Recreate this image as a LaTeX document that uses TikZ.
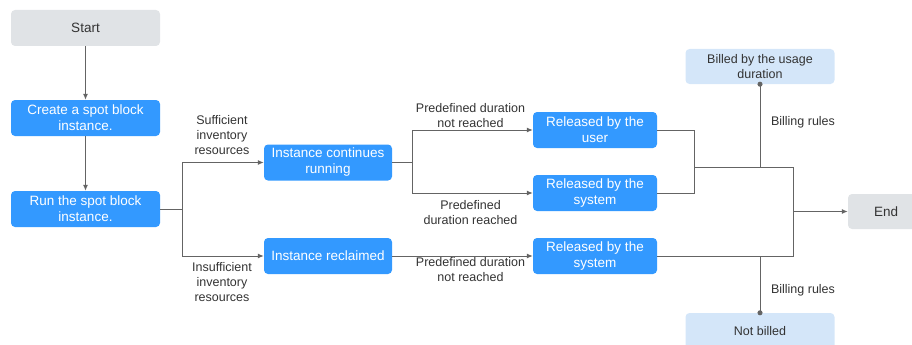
\documentclass[tikz,border=0pt]{standalone}
\usepackage{fontspec}
\setmainfont{Liberation Sans}
\usetikzlibrary{arrows.meta}
\definecolor{bluebox}{RGB}{51,153,255}
\definecolor{greybox}{RGB}{224,227,230}
\definecolor{lightblue}{RGB}{212,230,249}
\definecolor{linegrey}{RGB}{100,100,100}
\definecolor{txtgrey}{RGB}{51,51,51}
\begin{document}
\begin{tikzpicture}[x=1pt,y=-1pt,
  base/.style={rectangle, rounded corners=4pt, inner sep=0pt, align=center,
    font=\fontsize{13.5}{16}\selectfont},
  bluenode/.style={base, fill=bluebox, text=white},
  greynode/.style={base, fill=greybox, text=txtgrey},
  lightnode/.style={base, fill=lightblue, text=txtgrey, font=\fontsize{12.5}{15}\selectfont},
  lbl/.style={align=center, inner sep=0pt, text=txtgrey, font=\fontsize{12.5}{15}\selectfont},
  conn/.style={draw=linegrey, line width=1pt},
  arr/.style={conn, -{Latex[length=6pt,width=5pt]}},
  dotarr/.style={conn, -{Circle[length=5pt,width=5pt]}, shorten >=-2.5pt}
]
\useasboundingbox (0,0) rectangle (912,345);
\clip (0,0) rectangle (912,345);

\node[greynode, minimum width=149pt, minimum height=36pt] (start) at (85.5,28) {Start};
\node[bluenode, minimum width=149pt, minimum height=36pt] (create) at (85.5,118) {Create a spot block\\instance.};
\node[bluenode, minimum width=149pt, minimum height=36pt] (run) at (85.5,209) {Run the spot block\\instance.};

\node[bluenode, minimum width=128pt, minimum height=36pt] (cont) at (328,162.5) {Instance continues\\running};
\node[bluenode, minimum width=128pt, minimum height=36pt] (recl) at (328,256) {Instance reclaimed};

\node[bluenode, minimum width=124pt, minimum height=36pt] (user) at (595,130) {Released by the\\user};
\node[bluenode, minimum width=124pt, minimum height=36pt] (sys1) at (595,193) {Released by the\\system};
\node[bluenode, minimum width=124pt, minimum height=36pt] (sys2) at (595,256) {Released by the\\system};

\node[lightnode, minimum width=149pt, minimum height=35pt] (billed) at (760,66.5) {Billed by the usage\\duration};
\node[lightnode, minimum width=149pt, minimum height=36pt] (notbilled) at (760,331) {Not billed};
\node[greynode, minimum width=76pt, minimum height=35pt] (end) at (886,211.5) {End};

\node[lbl] (lsuf) at (222,135) {Sufficient\\inventory\\resources};
\node[lbl] (linsuf) at (222,282.5) {Insufficient\\inventory\\resources};
\node[lbl] (lnr1) at (470.5,115.5) {Predefined duration\\not reached};
\node[lbl] (lr) at (470.5,213) {Predefined\\duration reached};
\node[lbl] (lnr2) at (470.5,270) {Predefined duration\\not reached};
\node[lbl] (lbr1) at (803,122) {Billing rules};
\node[lbl] (lbr2) at (803,290) {Billing rules};

\coordinate (j1) at (182,209);
\coordinate (j2) at (412,162.5);
\coordinate (m1) at (694,167);
\coordinate (m2) at (793,167);
\coordinate (m3) at (793,211.5);
\coordinate (b1) at (760,167);
\coordinate (b2) at (760,256);

\draw[arr] (start) -- (create);
\draw[arr] (create) -- (run);
\draw[conn] (run.east) -- (j1);
\draw[arr] (j1) |- (cont.west);
\draw[arr] (j1) |- (recl.west);
\draw[conn] (cont.east) -- (j2);
\draw[arr] (j2) |- (user.west);
\draw[arr] (j2) |- (sys1.west);
\draw[arr] (recl) -- (sys2);
\draw[conn] (user.east) -| (m1);
\draw[conn] (sys1.east) -| (m1);
\draw[conn] (m1) -- (m2);
\draw[conn] (sys2.east) -| (m2);
\draw[arr] (m3) -- (end.west);
\draw[dotarr] (b1) -- (billed.south);
\draw[dotarr] (b2) -- (notbilled.north);
\end{tikzpicture}
\end{document}
